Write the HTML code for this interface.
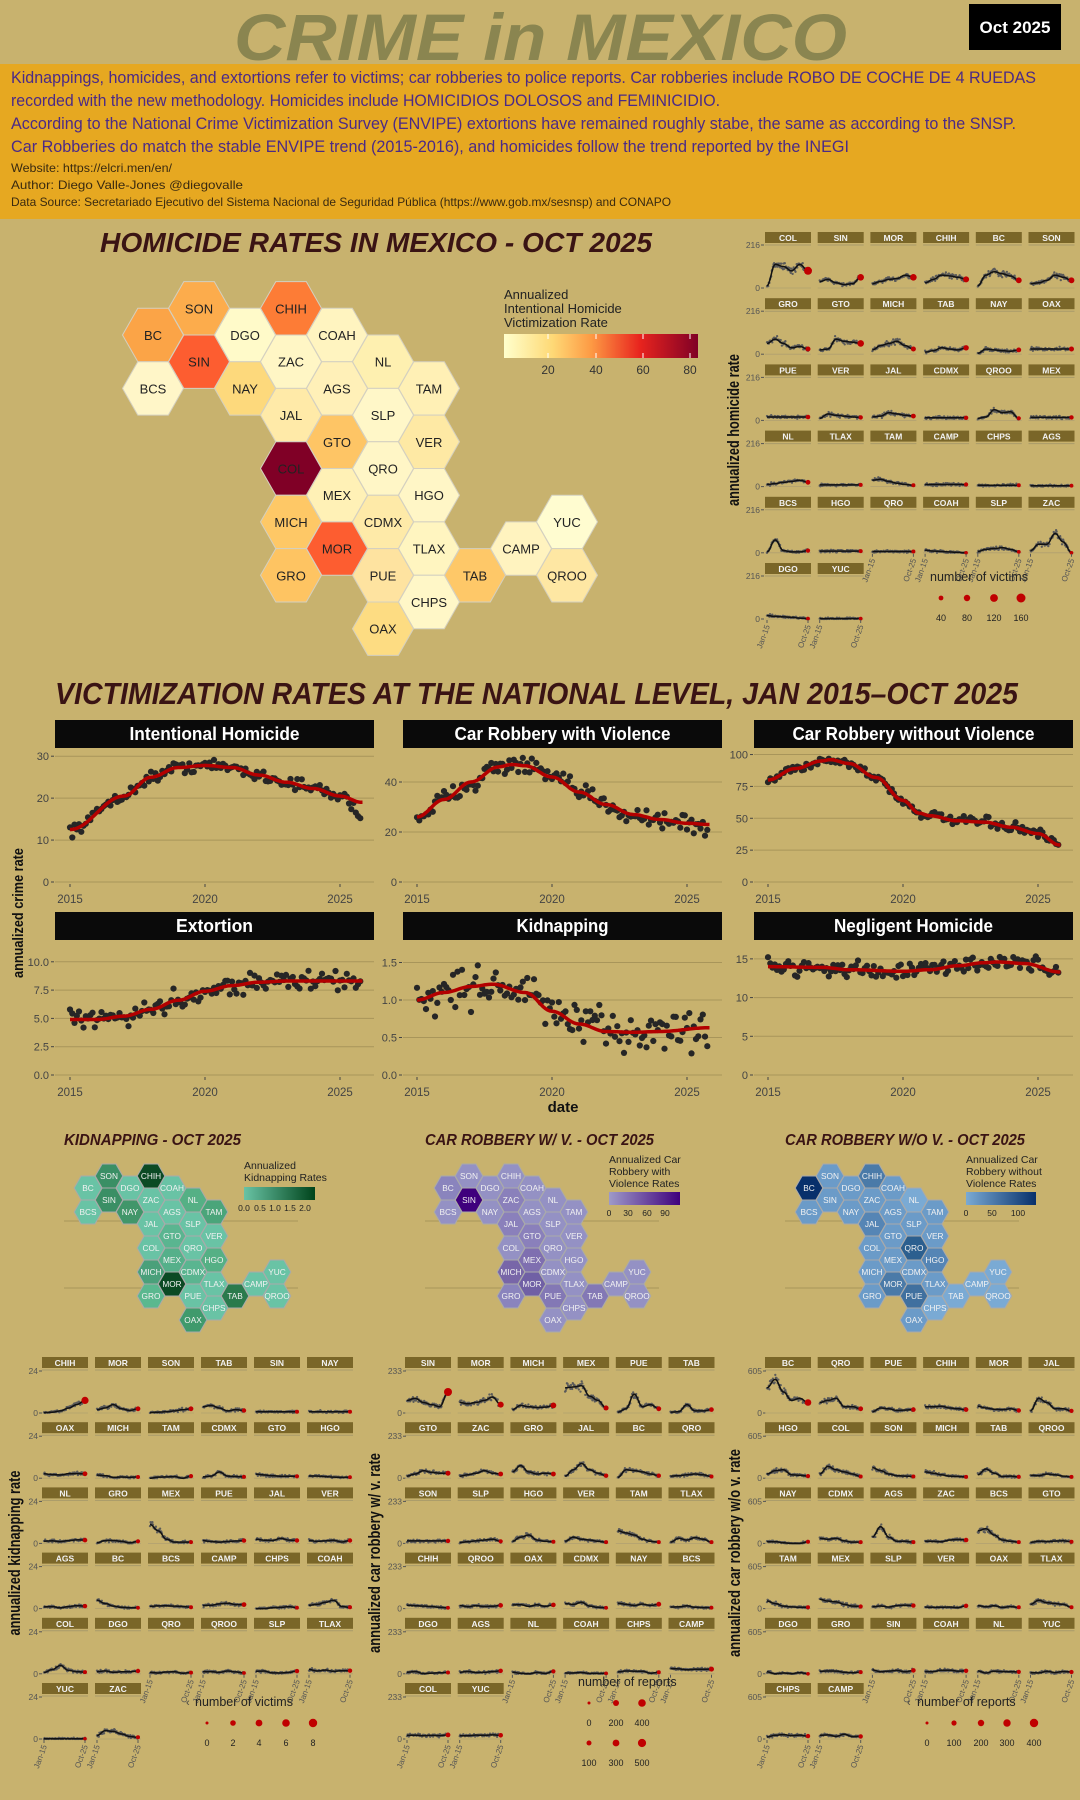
<!DOCTYPE html>
<html><head><meta charset="utf-8">
<style>
html,body{margin:0;padding:0;background:#c8b26e;}
svg{display:block;font-family:"Liberation Sans",sans-serif;}
</style></head>
<body>
<svg id="s" xmlns="http://www.w3.org/2000/svg" width="1080" height="1800" viewBox="0 0 1080 1800">
<rect x="0" y="0" width="1080" height="1800" fill="#c8b26e"/>
<rect x="0" y="64" width="1080" height="155" fill="#e6a821"/>
<text x="234" y="60" font-size="66" font-weight="bold" font-style="italic" fill="#8a8550" textLength="613" lengthAdjust="spacingAndGlyphs">CRIME in MEXICO</text>
<rect x="969" y="4" width="92" height="46" fill="#000"/>
<text x="1015" y="33" font-size="17" font-weight="bold" fill="#fff" text-anchor="middle">Oct 2025</text>
<g fill="#4b2a87" font-size="16.5">
<text x="11" y="83" textLength="1025" lengthAdjust="spacingAndGlyphs">Kidnappings, homicides, and extortions refer to victims; car robberies to police reports. Car robberies include ROBO DE COCHE DE 4 RUEDAS</text>
<text x="11" y="106" textLength="709" lengthAdjust="spacingAndGlyphs">recorded with the new methodology. Homicides include HOMICIDIOS DOLOSOS and FEMINICIDIO.</text>
<text x="11" y="129" textLength="1005" lengthAdjust="spacingAndGlyphs">According to the National Crime Victimization Survey (ENVIPE) extortions have remained roughly stabe, the same as according to the SNSP.</text>
<text x="11" y="152" textLength="838" lengthAdjust="spacingAndGlyphs">Car Robberies do match the stable ENVIPE trend (2015-2016), and homicides follow the trend reported by the INEGI</text>
</g>
<g fill="#3a2a10" font-size="12">
<text x="11" y="172" textLength="161" lengthAdjust="spacingAndGlyphs">Website: https://elcri.men/en/</text>
<text x="11" y="189" textLength="232" lengthAdjust="spacingAndGlyphs">Author: Diego Valle-Jones @diegovalle</text>
<text x="11" y="206" textLength="660" lengthAdjust="spacingAndGlyphs">Data Source: Secretariado Ejecutivo del Sistema Nacional de Seguridad Pública (https://www.gob.mx/sesnsp) and CONAPO</text>
</g>
<text x="100" y="252" font-size="28" font-weight="bold" font-style="italic" fill="#3a1414" textLength="552" lengthAdjust="spacingAndGlyphs">HOMICIDE RATES IN MEXICO - OCT 2025</text>
<text x="55" y="704" font-size="31" font-weight="bold" font-style="italic" fill="#3a1414" textLength="963" lengthAdjust="spacingAndGlyphs">VICTIMIZATION RATES AT THE NATIONAL LEVEL, JAN 2015–OCT 2025</text>
<g font-size="15.5" font-weight="bold" font-style="italic" fill="#3a1414">
<text x="64" y="1145" textLength="177" lengthAdjust="spacingAndGlyphs">KIDNAPPING - OCT 2025</text>
<text x="425" y="1145" textLength="229" lengthAdjust="spacingAndGlyphs">CAR ROBBERY W/ V. - OCT 2025</text>
<text x="785" y="1145" textLength="240" lengthAdjust="spacingAndGlyphs">CAR ROBBERY W/O V. - OCT 2025</text>
</g>
<defs>
<linearGradient id="gH" x1="0" x2="1" y1="0" y2="0">
<stop offset="0" stop-color="#ffffcc"/><stop offset="0.25" stop-color="#fed976"/><stop offset="0.45" stop-color="#fd9a44"/><stop offset="0.7" stop-color="#e8241e"/><stop offset="1" stop-color="#800026"/></linearGradient>
<linearGradient id="gK" x1="0" x2="1"><stop offset="0" stop-color="#69c3a5"/><stop offset="1" stop-color="#00441b"/></linearGradient>
<linearGradient id="gV" x1="0" x2="1"><stop offset="0" stop-color="#9e9ac8"/><stop offset="1" stop-color="#3f007d"/></linearGradient>
<linearGradient id="gW" x1="0" x2="1"><stop offset="0" stop-color="#7aaad4"/><stop offset="1" stop-color="#08306b"/></linearGradient>
</defs>
</svg>
<script>
const S=document.getElementById('s');const NS='http://www.w3.org/2000/svg';
function E(t,a,txt,p){const e=document.createElementNS(NS,t);for(const k in a)e.setAttribute(k,a[k]);if(txt!=null)e.textContent=txt;(p||S).appendChild(e);return e;}
let seed=12345;function R(){seed=(seed*16807)%2147483647;return seed/2147483647;}
function G(){return (R()+R()+R()-1.5)*1.15;}
function interp(cp,t){
 if(t<=cp[0][0])return cp[0][1];
 for(let i=0;i<cp.length-1;i++){const a=cp[i],b=cp[i+1];if(t<=b[0]){const f=(t-a[0])/(b[0]-a[0]);const g=(1-Math.cos(f*Math.PI))/2;return a[1]+(b[1]-a[1])*g;}}
 return cp[cp.length-1][1];}
function eq(arr){const n=arr.length;return arr.map((v,i)=>[i/(n-1),v]);}
function hex(cx,cy,r,hh,fill,stroke){const p=[[cx-r,cy],[cx-r/2,cy-hh],[cx+r/2,cy-hh],[cx+r,cy],[cx+r/2,cy+hh],[cx-r/2,cy+hh]].map(q=>q[0].toFixed(1)+','+q[1].toFixed(1)).join(' ');E('polygon',{points:p,fill:fill,stroke:stroke,'stroke-width':1});}
const pos={SON:[1,0],CHIH:[3,0],BC:[0,1],DGO:[2,1],COAH:[4,1],SIN:[1,2],ZAC:[3,2],NL:[5,2],BCS:[0,3],NAY:[2,3],AGS:[4,3],TAM:[6,3],JAL:[3,4],SLP:[5,4],GTO:[4,5],VER:[6,5],COL:[3,6],QRO:[5,6],MEX:[4,7],HGO:[6,7],MICH:[3,8],CDMX:[5,8],YUC:[9,8],MOR:[4,9],TLAX:[6,9],CAMP:[8,9],GRO:[3,10],PUE:[5,10],TAB:[7,10],QROO:[9,10],CHPS:[6,11],OAX:[5,12]};
const hc={SON:'#fcac4c',CHIH:'#fd7c36',BC:'#fba447',DGO:'#fffac9',SIN:'#fd5d30',COAH:'#fff4c0',ZAC:'#fff6c5',NL:'#fef0b0',BCS:'#fff6c8',NAY:'#fdd97c',AGS:'#fff0b8',TAM:'#fff0b5',JAL:'#ffeaa8',SLP:'#fff7c8',GTO:'#fec565',VER:'#fee9a4',COL:'#800026',QRO:'#fff6c6',MEX:'#fff1b6',HGO:'#fff6c6',MICH:'#fec866',CDMX:'#feeaa8',YUC:'#fffcd0',MOR:'#fd5d30',TLAX:'#fff5c0',CAMP:'#fff3bf',GRO:'#fec462',PUE:'#fee3a0',TAB:'#fec868',QROO:'#fee7a3',CHPS:'#fff7c7',OAX:'#fddc82'};
for(const k in pos){const [c,r]=pos[k];const x=153+46*c,y=308.3+26.7*r;hex(x,y,30.5,26.7,hc[k],'#d4d0c0');E('text',{x:x,y:y+5,'font-size':13,'text-anchor':'middle',fill:'#222'},k);}
['Annualized','Intentional Homicide','Victimization Rate'].forEach((t,i)=>E('text',{x:504,y:299+14*i,'font-size':13,fill:'#222'},t));
E('rect',{x:504,y:334,width:194,height:24,fill:'url(#gH)'});
[[548,'20'],[596,'40'],[643,'60'],[690,'80']].forEach(a=>{E('line',{x1:a[0],x2:a[0],y1:334,y2:339,stroke:'#fff'});E('line',{x1:a[0],x2:a[0],y1:353,y2:358,stroke:'#fff'});E('text',{x:a[0],y:374,'font-size':12,'text-anchor':'middle',fill:'#333'},a[1]);});
const kc={SON:'#3a8f65',SIN:'#3a8f65',NAY:'#41966a',CHIH:'#0b4a24',MOR:'#0b4a24',TAB:'#2a7a4c',OAX:'#3f9a6c',MICH:'#4aa07a',GRO:'#5ab88f',MEX:'#55b08a',GTO:'#5ab590',CDMX:'#5ab590',TAM:'#4aa57a',NL:'#55b085',HGO:'#55b085'};
const vc={SIN:'#3f007d',MICH:'#7866a8',MOR:'#7060a5',MEX:'#7f6fb0',BC:'#8a84bd',ZAC:'#8a80bb',JAL:'#8a80bb',GTO:'#8a80bb',PUE:'#8378b5',TAB:'#8378b5',GRO:'#8a84bd'};
const wc={BC:'#08306b',QRO:'#2c5f8f',CHIH:'#4a7aa8',MOR:'#4a7aa8',PUE:'#40709f',JAL:'#5585b5',HGO:'#5585b5',YUC:'#7aaad4',CAMP:'#7aaad4',QROO:'#7aaad4',TAB:'#7aaad4',NL:'#7aaad4',CHPS:'#7aaad4'};
[[64,298],[425,659],[785,1019]].forEach(a=>{[1221,1288].forEach(y=>E('line',{x1:a[0],x2:a[1],y1:y,y2:y,stroke:'#a8955a','stroke-width':1}));});
function mini(base,cm,def){for(const k in pos){const [c,r]=pos[k];const x=base+21*c,y=1176+12*r;hex(x,y,13.8,12,cm[k]||def,'#aaa');E('text',{x:x,y:y+3,'font-size':8.3,'text-anchor':'middle',fill:'#f2f2f2'},k);}}
mini(88,kc,'#69c3a5');mini(448,vc,'#9491c4');mini(809,wc,'#6b9bc8');
function mleg(x,lines,grad,x2,labs){lines.forEach((t,i)=>E('text',{x:x,y:lines.length==2?1169+12*i:1163+12*i,'font-size':10.5,fill:'#222'},t));const y0=lines.length==2?1187:1192;E('rect',{x:x,y:y0,width:x2-x,height:13,fill:grad});labs.forEach(l=>E('text',{x:l[0],y:y0+24,'font-size':8.5,'text-anchor':'middle',fill:'#222'},l[1]));}
mleg(244,['Annualized','Kidnapping Rates'],'url(#gK)',315,[[244,'0.0'],[260,'0.5'],[275,'1.0'],[290,'1.5'],[305,'2.0']]);
mleg(609,['Annualized Car','Robbery with','Violence Rates'],'url(#gV)',680,[[609,'0'],[628,'30'],[647,'60'],[665,'90']]);
mleg(966,['Annualized Car','Robbery without','Violence Rates'],'url(#gW)',1036,[[966,'0'],[992,'50'],[1018,'100']]);
const nat=[
 {t:'Intentional Homicide',tl:170,max:31,ticks:[0,10,20,30],fmt:v=>v,noise:1.2,cp:[[0,12.5],[2,20.5],[3,25],[4,27.3],[5,27.8],[6,27.3],[7,25.5],[8,23.8],[9,22.3],[10,20.5],[10.8,19]],late:[10.2,-3.5]},
 {t:'Car Robbery with Violence',tl:216,max:52,ticks:[0,20,40],fmt:v=>v,noise:3.2,cp:[[0,26],[1,33],[2,40],[3,46],[3.5,47],[4,46.5],[5,42],[6,36],[7,31],[8,27],[9,25],[10,23.5],[10.8,23]],late:[10.2,-4]},
 {t:'Car Robbery without Violence',tl:242,max:102,ticks:[0,25,50,75,100],fmt:v=>v,noise:3.0,cp:[[0,80],[1,89],[2,95],[2.3,96],[3,93],[4,82],[5,64],[5.6,54],[6,52],[7,48],[8,47],[9,43],[10,38],[10.8,29]],late:null},
 {t:'Extortion',tl:77,max:10.6,ticks:[0,2.5,5,7.5,10],fmt:v=>v.toFixed(1),noise:0.75,cp:[[0,4.9],[1,4.9],[2,5.2],[3,5.8],[4,6.6],[5,7.4],[6,7.9],[7,8.2],[8,8.3],[9,8.3],[10.8,8.3]],late:null},
 {t:'Kidnapping',tl:92,max:1.6,ticks:[0,0.5,1,1.5],fmt:v=>v.toFixed(1),noise:0.24,cp:[[0,1.0],[1,1.1],[2,1.18],[2.8,1.21],[4,1.1],[5,0.85],[6,0.68],[7,0.58],[8,0.57],[9,0.58],[10.8,0.63]],late:null},
 {t:'Negligent Homicide',tl:159,max:15.5,ticks:[0,5,10,15],fmt:v=>v,noise:0.9,cp:[[0,14],[2,13.9],[3,13.6],[5,13.4],[6,13.6],[7,14.1],[8,14.5],[8.5,14.6],[9.5,14.4],[10.8,13.3]],late:null}];
const SX=[55,403,754],PX=[70,417,768],SY=[720,912],Z0=[882,1075],TOP=[752,955];
nat.forEach((p,i)=>{const c=i%3,r=Math.floor(i/3);const sx=SX[c];
 E('rect',{x:sx,y:SY[r],width:319,height:28,fill:'#0a0a0a'});
 E('text',{x:sx+159.5,y:SY[r]+20,'font-size':18,'font-weight':'bold',fill:'#fff','text-anchor':'middle',textLength:p.tl,lengthAdjust:'spacingAndGlyphs'},p.t);
 const z=Z0[r],sc=(z-TOP[r])/p.max;const Y=v=>z-v*sc;
 p.ticks.forEach(tv=>{const y=Y(tv);E('line',{x1:sx,x2:sx+319,y1:y,y2:y,stroke:'#a8955a','stroke-width':1});E('line',{x1:sx-4,x2:sx-1,y1:y,y2:y,stroke:'#444'});E('text',{x:sx-6,y:y+4,'font-size':11,'text-anchor':'end',fill:'#444'},p.fmt(tv));});
 [0,5,10].forEach((yy,j)=>{const x=PX[c]+27*yy;E('line',{x1:x,x2:x,y1:z+2,y2:z+5,stroke:'#444'});E('text',{x:x,y:z+21,'font-size':11.5,'text-anchor':'middle',fill:'#444'},2015+yy);});
 const g=E('g',{fill:'#262626'});
 for(let k=0;k<130;k++){const t=k/12;let v=interp(p.cp,t)+p.noise*G();if(p.late&&t>p.late[0])v+=p.late[1]*(t-p.late[0])/0.6;E('circle',{cx:(PX[c]+27*t).toFixed(1),cy:Y(v).toFixed(1),r:3.1},null,g);}
 let d='';for(let k=0;k<=130;k++){const t=k/12;d+=(k?'L':'M')+(PX[c]+27*t).toFixed(1)+','+Y(interp(p.cp,t)).toFixed(1);}
 E('path',{d:d,fill:'none',stroke:'#b30000','stroke-width':3.5});});
E('text',{x:0,y:0,'font-size':15,'font-weight':'bold',fill:'#111','text-anchor':'middle',transform:'translate(23,913) rotate(-90)',textLength:130,lengthAdjust:'spacingAndGlyphs'},'annualized crime rate');
E('text',{x:563,y:1112,'font-size':15,'font-weight':'bold',fill:'#111','text-anchor':'middle'},'date');
function grid(o){const names=o.names;names.forEach((nm,i)=>{const c=i%6,r=Math.floor(i/6);const sx=o.x0+o.pitch*c,sy=o.sy+o.rp*r;
 E('rect',{x:sx,y:sy,width:46,height:11,fill:'#7a6628'});E('line',{x1:sx,x2:sx+46,y1:sy+13,y2:sy+13,stroke:'#a89a6a','stroke-width':1});
 E('text',{x:sx+23,y:sy+9,'font-size':8.5,'font-weight':'bold',fill:'#f2f2f2','text-anchor':'middle'},nm);
 const top=sy+o.dTop,z=sy+o.dZero;
 if(c==0){E('text',{x:o.lx,y:top+3,'font-size':8.5,'text-anchor':'end',fill:'#555'},o.max);E('text',{x:o.lx,y:z+3,'font-size':8.5,'text-anchor':'end',fill:'#555'},'0');E('line',{x1:o.lx+1,x2:o.lx+4,y1:top,y2:top,stroke:'#555'});E('line',{x1:o.lx+1,x2:o.lx+4,y1:z,y2:z,stroke:'#555'});}
 E('line',{x1:sx,x2:sx+46,y1:z,y2:z,stroke:'#b0a070','stroke-width':0.8});
 let sh=o.shapes[nm];if(sh==null){sh=[];const b=0.02+R()*0.08;for(let q=0;q<6;q++)sh.push(Math.max(0,b+(R()-0.5)*0.06));}else if(typeof sh=='number')sh=[sh,sh,sh,sh,sh,sh];
 const cp=eq(sh);const h=z-top,x0=sx+2,w=41;
 const gg=E('g',{fill:'#5a5a5a'});
 for(let k=0;k<70;k++){const f=k/69;const v=Math.max(0,interp(cp,f)+(0.02+0.12*interp(cp,f))*G());E('circle',{cx:(x0+w*f).toFixed(1),cy:(z-v*h).toFixed(1),r:1.15},null,gg);}
 let d='';for(let k=0;k<=40;k++){const f=k/40;d+=(k?'L':'M')+(x0+w*f).toFixed(1)+','+(z-interp(cp,f)*h).toFixed(1);}
 E('path',{d:d,fill:'none',stroke:'#111','stroke-width':1.5});
 const ev=sh[5];E('circle',{cx:x0+w,cy:(z-ev*h).toFixed(1),r:(1.8+Math.min(2.2,ev*6)).toFixed(1),fill:'#c00000'});
 const bottom=(c<2&&r==5)||(c>=2&&r==4);
 if(bottom){[[x0,'Jan-15'],[x0+w,'Oct-25']].forEach(a=>{E('line',{x1:a[0],x2:a[0],y1:z+1,y2:z+4,stroke:'#555'});E('text',{x:0,y:0,'font-size':8,fill:'#555','text-anchor':'end',transform:`translate(${a[0]+3},${z+7}) rotate(-70)`},a[1]);});}
 });
 E('text',{x:0,y:0,'font-size':17,'font-weight':'bold',fill:'#111','text-anchor':'middle',transform:`translate(${o.ax},${o.ay}) rotate(-90)`,textLength:o.al,lengthAdjust:'spacingAndGlyphs'},o.alab);}
grid({x0:765,pitch:52.7,sy:232,rp:66.2,dTop:13,dZero:56,lx:760,max:'216',ax:739,ay:430,al:152,alab:'annualized homicide rate',
 names:['COL','SIN','MOR','CHIH','BC','SON','GRO','GTO','MICH','TAB','NAY','OAX','PUE','VER','JAL','CDMX','QROO','MEX','NL','TLAX','TAM','CAMP','CHPS','AGS','BCS','HGO','QRO','COAH','SLP','ZAC','DGO','YUC'],
 shapes:{COL:[0.05,0.55,0.5,0.4,0.55,0.4],SIN:[0.15,0.2,0.12,0.08,0.1,0.25],MOR:[0.1,0.15,0.2,0.22,0.3,0.25],CHIH:[0.12,0.2,0.3,0.28,0.25,0.2],BC:[0.05,0.3,0.38,0.33,0.28,0.18],SON:[0.1,0.12,0.18,0.3,0.25,0.18],GRO:[0.25,0.35,0.25,0.15,0.18,0.12],GTO:[0.1,0.12,0.35,0.3,0.28,0.25],MICH:[0.1,0.2,0.25,0.3,0.2,0.12],TAB:[0.05,0.08,0.15,0.12,0.1,0.15],NAY:[0.02,0.12,0.1,0.08,0.07,0.1],OAX:0.12,PUE:0.08,VER:[0.05,0.15,0.12,0.1,0.08,0.07],JAL:[0.08,0.1,0.18,0.15,0.12,0.1],CDMX:0.06,QROO:[0.05,0.08,0.25,0.18,0.2,0.05],MEX:0.07,NL:[0.05,0.07,0.1,0.12,0.15,0.1],TLAX:0.04,TAM:[0.15,0.17,0.12,0.08,0.05,0.03],CAMP:0.05,CHPS:0.03,AGS:0.02,BCS:[0.02,0.3,0.05,0.02,0.02,0.05],HGO:0.04,QRO:0.03,COAH:[0.06,0.04,0.03,0.02,0.01,0],SLP:[0.03,0.08,0.1,0.12,0.08,0.02],ZAC:[0.05,0.2,0.2,0.45,0.25,0.0],DGO:[0.08,0.06,0.05,0.04,0.02,0.01],YUC:0.01}});
grid({x0:42,pitch:53,sy:1357,rp:65.2,dTop:14,dZero:56,lx:38,max:'24',ax:20,ay:1553,al:165,alab:'annualized kidnapping rate',
 names:['CHIH','MOR','SON','TAB','SIN','NAY','OAX','MICH','TAM','CDMX','GTO','HGO','NL','GRO','MEX','PUE','JAL','VER','AGS','BC','BCS','CAMP','CHPS','COAH','COL','DGO','QRO','QROO','SLP','TLAX','YUC','ZAC'],
 shapes:{CHIH:[0.01,0.02,0.05,0.12,0.2,0.3],MOR:[0.08,0.12,0.2,0.1,0.06,0.1],SON:[0.01,0.02,0.03,0.05,0.08,0.1],TAB:[0.15,0.18,0.12,0.05,0.08,0.06],SIN:0.03,NAY:0.03,MEX:[0.45,0.3,0.1,0.03,0.03,0.03],CDMX:[0.03,0.05,0.15,0.05,0.04,0.03],BC:[0.2,0.12,0.06,0.03,0.02,0.02],COAH:[0.08,0.1,0.15,0.2,0.05,0.03],COL:[0.03,0.1,0.2,0.08,0.05,0.04],ZAC:[0.08,0.2,0.18,0.12,0.06,0.04],YUC:0.005}});
grid({x0:405,pitch:52.7,sy:1357,rp:65.2,dTop:14,dZero:56,lx:402,max:'233',ax:380,ay:1553,al:200,alab:'annualized car robbery w/ v. rate',
 names:['SIN','MOR','MICH','MEX','PUE','TAB','GTO','ZAC','GRO','JAL','BC','QRO','SON','SLP','HGO','VER','TAM','TLAX','CHIH','QROO','OAX','CDMX','NAY','BCS','DGO','AGS','NL','COAH','CHPS','CAMP','COL','YUC'],
 shapes:{SIN:[0.3,0.35,0.25,0.2,0.15,0.5],MOR:[0.25,0.22,0.25,0.3,0.38,0.2],MICH:[0.08,0.18,0.15,0.13,0.14,0.18],MEX:[0.6,0.62,0.65,0.4,0.3,0.12],PUE:[0.02,0.1,0.45,0.15,0.2,0.1],TAB:[0.02,0.03,0.2,0.05,0.05,0.08],GTO:[0.05,0.1,0.18,0.14,0.12,0.12],ZAC:[0.05,0.08,0.12,0.18,0.12,0.1],GRO:[0.15,0.3,0.15,0.1,0.12,0.1],JAL:[0.05,0.2,0.35,0.2,0.12,0.06],BC:[0.02,0.2,0.18,0.15,0.1,0.06],QRO:[0.05,0.06,0.08,0.1,0.08,0.04],SON:0.06,SLP:[0.02,0.04,0.06,0.08,0.1,0.05],HGO:[0.05,0.15,0.2,0.08,0.05,0.04],VER:[0.05,0.15,0.1,0.08,0.05,0.03],TAM:[0.3,0.25,0.2,0.1,0.05,0.03],TLAX:[0.03,0.12,0.08,0.14,0.1,0.03],CHIH:[0.08,0.07,0.06,0.05,0.03,0.02],COAH:[0.02,0.02,0.03,0.01,0.01,0.01],CDMX:[0.12,0.1,0.15,0.06,0.03,0.02]}});
grid({x0:765,pitch:52.7,sy:1357,rp:65.2,dTop:14,dZero:56,lx:762,max:'605',ax:740,ay:1553,al:208,alab:'annualized car robbery w/o v. rate',
 names:['BC','QRO','PUE','CHIH','MOR','JAL','HGO','COL','SON','MICH','TAB','QROO','NAY','CDMX','AGS','ZAC','BCS','GTO','TAM','MEX','SLP','VER','OAX','TLAX','DGO','GRO','SIN','COAH','NL','YUC','CHPS','CAMP'],
 shapes:{BC:[0.6,0.8,0.5,0.3,0.35,0.25],QRO:[0.25,0.3,0.35,0.15,0.15,0.1],PUE:[0.03,0.12,0.1,0.06,0.07,0.08],CHIH:[0.15,0.15,0.16,0.12,0.1,0.08],MOR:[0.16,0.12,0.09,0.08,0.1,0.06],JAL:[0.05,0.35,0.25,0.1,0.1,0.05],HGO:[0.1,0.18,0.2,0.08,0.07,0.05],COL:[0.1,0.28,0.2,0.15,0.1,0.04],SON:[0.25,0.18,0.1,0.06,0.05,0.04],MICH:[0.15,0.12,0.08,0.05,0.04,0.03],TAB:[0.08,0.22,0.12,0.04,0.05,0.03],QROO:[0.07,0.06,0.1,0.08,0.05,0.03],AGS:[0.15,0.4,0.15,0.05,0.05,0.03],BCS:[0.3,0.35,0.2,0.08,0.05,0.03],TAM:[0.18,0.12,0.06,0.04,0.03,0.03],MEX:[0.22,0.18,0.16,0.1,0.06,0.05],TLAX:[0.1,0.2,0.14,0.12,0.1,0.03],CDMX:[0.12,0.1,0.12,0.06,0.03,0.03]}});
function leg(x,y,label,dots,rs,labs,ly){E('text',{x:x,y:y,'font-size':12.5,fill:'#222'},label);dots.forEach((dx,i)=>{E('circle',{cx:dx,cy:ly,r:rs[i],fill:'#c00000'});E('text',{x:dx,y:ly+23,'font-size':9,'text-anchor':'middle',fill:'#222'},labs[i]);});}
leg(930,581,'number of victims',[941,967,994,1021],[2.4,3.2,3.9,4.5],['40','80','120','160'],598);
leg(195,1706,'number of victims',[207,233,259,286,313],[1.5,2.8,3.4,3.8,4.2],['0','2','4','6','8'],1723);
E('text',{x:186,y:1706,'font-size':11,fill:'#444'},'‹');
leg(578,1686,'number of reports',[589,616,642],[1.5,3,3.8],['0','200','400'],1703);
leg(578,1686,'',[589,616,642],[2.5,3.4,4.1],['100','300','500'],1743);
leg(917,1706,'number of reports',[927,954,981,1007,1034],[1.5,2.6,3.2,3.7,4.2],['0','100','200','300','400'],1723);
E('text',{x:907,y:1706,'font-size':11,fill:'#444'},'‹');
</script>
</body></html>
